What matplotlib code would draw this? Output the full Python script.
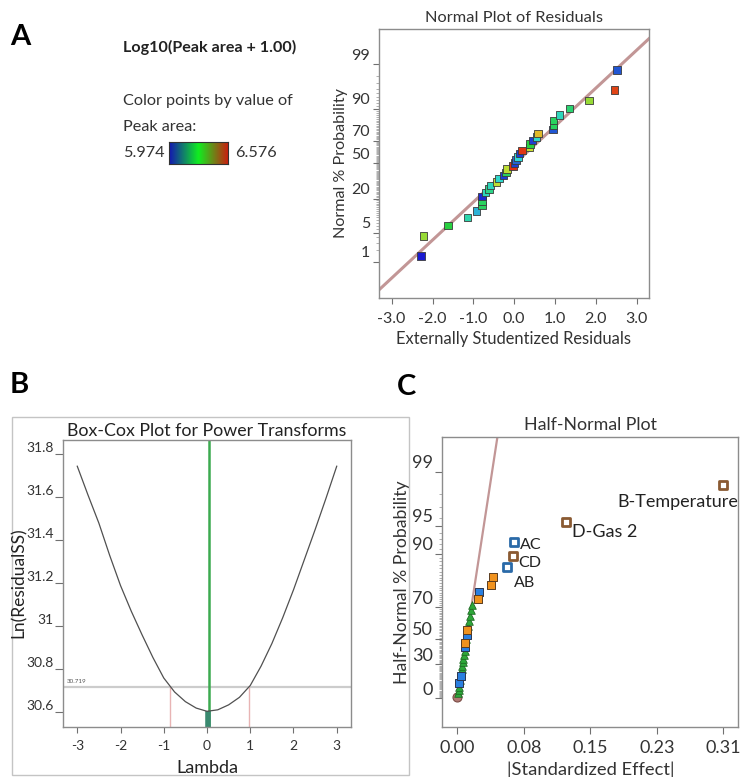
from statistics import NormalDist

import numpy as np
import matplotlib
matplotlib.use("Agg")
import matplotlib.pyplot as plt
import matplotlib.transforms as mtransforms
from matplotlib.colors import LinearSegmentedColormap
from matplotlib.patches import Rectangle

plt.rcParams['font.family'] = ['Lato', 'DejaVu Sans']

W, H = 743, 777
nd = NormalDist()

# ---------------- data ----------------
# A: normal plot of residuals (sorted residuals, coloured by peak area)
residuals = [-2.28, -2.22, -1.62, -1.15, -0.93, -0.79, -0.79, -0.79, -0.71, -0.62,
             -0.58, -0.43, -0.37, -0.27, -0.20, -0.18, -0.03, 0.01, 0.04, 0.09,
             0.13, 0.19, 0.37, 0.39, 0.45, 0.55, 0.58, 0.95, 0.96, 0.96,
             1.11, 1.35, 1.83, 2.46, 2.52]
peak_area = [5.974, 6.365, 6.275, 6.167, 6.094, 6.245, 6.245, 5.986, 6.155, 6.203,
             6.155, 6.395, 6.137, 6.004, 6.245, 6.395, 6.564, 6.004, 6.034, 6.125,
             6.004, 6.558, 6.407, 6.275, 6.004, 6.137, 6.456, 6.022, 6.245, 6.245,
             6.155, 6.227, 6.365, 6.546, 6.022]
peak_min, peak_max = 5.974, 6.576
prob_ticks_a = [1, 5, 20, 50, 70, 90, 99]
resid_ticks = [-3.0, -2.0, -1.0, 0.0, 1.0, 2.0, 3.0]

# B: Box-Cox plot
lambdas = [-3.0, -2.75, -2.5, -2.25, -2.0, -1.75, -1.5, -1.25, -1.0, -0.75, -0.5, -0.25, 0.0,
           0.25, 0.5, 0.75, 1.0, 1.25, 1.5, 1.75, 2.0, 2.25, 2.5, 2.75, 3.0]
ln_ss = [31.745, 31.61, 31.48, 31.33, 31.19, 31.07, 30.96, 30.855, 30.76, 30.695, 30.65, 30.62, 30.605,
         30.612, 30.635, 30.67, 30.725, 30.815, 30.92, 31.04, 31.17, 31.31, 31.45, 31.595, 31.745]
lambda_best = 0.05
lambda_low, lambda_high = -0.85, 0.97
ss_ci = 30.719
boxcox_yticks = [30.6, 30.8, 31.0, 31.2, 31.4, 31.6, 31.8]
boxcox_xticks = [-3, -2, -1, 0, 1, 2, 3]

# C: half-normal plot of effects (sorted |effect|)
effects = [0.0, 0.0010, 0.0015, 0.0020, 0.0023, 0.0033, 0.0040, 0.0045, 0.0050, 0.0058,
           0.0065, 0.0070, 0.0078, 0.0085, 0.0090, 0.0090, 0.0105, 0.0110, 0.0110, 0.0130,
           0.0138, 0.0148, 0.0158, 0.0168, 0.0238, 0.0256, 0.0393, 0.0416, 0.0580, 0.0646,
           0.0657, 0.1263, 0.3100]
effect_kind = ['zero', 'err', 'err', 'err', 'neg', 'err', 'neg', 'err', 'err', 'err',
               'err', 'err', 'err', 'err', 'neg', 'pos', 'err', 'neg', 'pos', 'err',
               'err', 'err', 'err', 'err', 'pos', 'neg', 'pos', 'pos', 'negsel', 'possel',
               'negsel', 'possel', 'possel']
effect_names = {28: 'AB', 29: 'CD', 30: 'AC', 31: 'D-Gas 2', 32: 'B-Temperature'}
prob_ticks_c = [0, 30, 50, 70, 90, 95, 99]
effect_ticks = [0.0, 0.0775, 0.155, 0.2325, 0.31]


def box(x0, y0, x1, y1):
    # pixel box (top-left origin) -> figure fraction rect
    return [x0 / W, 1 - y1 / H, (x1 - x0) / W, (y1 - y0) / H]


def fx(x):
    return x / W


def fy(y):
    return 1 - y / H


def lift_ylabels(ax, px):
    off = mtransforms.ScaledTranslation(0, px / 100, ax.figure.dpi_scale_trans)
    for lab in ax.get_yticklabels():
        lab.set_transform(lab.get_transform() + off)


def style_axes(ax):
    for s in ax.spines.values():
        s.set_color('#8c8c8c')
        s.set_linewidth(1.0)


fig = plt.figure(figsize=(W / 100, H / 100), dpi=100)

# ================= A =================
fig.text(fx(20), fy(37), 'A', fontsize=21, fontweight='bold', ha='center', va='center')
fig.text(fx(123), fy(47.5), 'Log10(Peak area + 1.00)', fontsize=11.6, fontweight='bold',
         ha='left', va='center', color='#222222')
fig.text(fx(123), fy(101), 'Color points by value of', fontsize=11.7, ha='left', va='center', color='#333333')
fig.text(fx(123), fy(127), 'Peak area:', fontsize=11.7, ha='left', va='center', color='#333333')
fig.text(fx(123), fy(153), f'{peak_min:.3f}', fontsize=11.7, ha='left', va='center', color='#333333')
fig.text(fx(235), fy(153), f'{peak_max:.3f}', fontsize=11.7, ha='left', va='center', color='#333333')

cmap_bar = LinearSegmentedColormap.from_list('bar', ['#1414b4', '#10ee20', '#c82010'])
cmap_pts = LinearSegmentedColormap.from_list('pts', ['#1a1ad0', '#30d8d8', '#28d040', '#e0e030', '#e02010'])

ax_cb = fig.add_axes(box(169.3, 141.7, 228.3, 164))
ax_cb.imshow(np.linspace(0, 1, 256)[None, :], aspect='auto', cmap=cmap_bar)
ax_cb.set_xticks([])
ax_cb.set_yticks([])
for s in ax_cb.spines.values():
    s.set_color('#333333')

ax_a = fig.add_axes(box(379, 29, 649, 298))
style_axes(ax_a)
n_a = len(residuals)
z_a = [nd.inv_cdf((i + 0.5) / n_a) for i in range(n_a)]
k, b = np.polyfit(residuals, z_a, 1)
xlim_a = (-3.31, 3.30)
xs = np.array(xlim_a)
ax_a.plot(xs, k * xs + b, color='#c29696', lw=2.2, zorder=2)
ax_a.scatter(residuals, z_a, c=peak_area, cmap=cmap_pts, vmin=peak_min, vmax=peak_max,
             marker='s', s=28, edgecolors='#3a3a3a', linewidths=0.6, zorder=3)
ax_a.set_xlim(*xlim_a)
ax_a.set_ylim(-3.176, 3.153)
ax_a.set_xticks(resid_ticks)
ax_a.set_xticklabels([f'{t:.1f}' for t in resid_ticks])
ax_a.set_yticks([nd.inv_cdf(p / 100) for p in prob_ticks_a])
ax_a.set_yticklabels([str(p) for p in prob_ticks_a])
ax_a.set_yticks([nd.inv_cdf(p / 100) for p in range(1, 100)], minor=True)
ax_a.tick_params(direction='out', length=4.5, width=0.8, color='#707070', labelcolor='#333333',
                 labelsize=11.5, pad=2)
ax_a.tick_params(axis='x', pad=5.5)
ax_a.tick_params(which='minor', length=2.2, width=0.5, color='#909090')
lift_ylabels(ax_a, 10)
ax_a.set_title('Normal Plot of Residuals', fontsize=11.8, color='#333333', pad=5)
ax_a.set_xlabel('Externally Studentized Residuals', fontsize=11.9, color='#333333', labelpad=3.5)
ax_a.set_ylabel('Normal % Probability', fontsize=11.6, color='#333333', labelpad=2)

# ================= B =================
fig.text(fx(19), fy(385), 'B', fontsize=21, fontweight='bold', ha='center', va='center')
fig.add_artist(Rectangle((fx(12), fy(775)), fx(409) - fx(12), fy(417) - fy(775),
                         transform=fig.transFigure, fill=False, edgecolor='#c4c4c4', lw=1))
ax_b = fig.add_axes(box(63, 440, 351, 727))
style_axes(ax_b)
ylim_b = (30.532, 31.867)
ax_b.axhline(ss_ci, color='#cccccc', lw=1.6, zorder=1)
ax_b.vlines([lambda_low, lambda_high], ylim_b[0], ss_ci, color='#e8b4b4', lw=1, zorder=1)
ax_b.axvline(lambda_best, color='#3caa50', lw=1.8, zorder=2)
ax_b.vlines(lambda_best - 0.02, ylim_b[0], min(ln_ss), color='#3a8a70', lw=4, zorder=2)
ax_b.plot(lambdas, ln_ss, color='#505050', lw=0.9, zorder=3)
ax_b.text(-3.25, ss_ci + 0.012, f'{ss_ci:.3f}', fontsize=4.5, color='#555555',
          ha='left', va='bottom')
ax_b.set_xlim(-3.33, 3.33)
ax_b.set_ylim(*ylim_b)
ax_b.set_xticks(boxcox_xticks)
ax_b.set_xticklabels([str(t) for t in boxcox_xticks])
ax_b.set_yticks(boxcox_yticks)
ax_b.set_yticklabels([f'{t:g}' for t in boxcox_yticks])
ax_b.tick_params(axis='y', direction='out', length=5.8, width=0.8, color='#707070',
                 labelcolor='#333333', labelsize=10, pad=1)
ax_b.tick_params(axis='x', direction='out', length=4, width=0.8, color='#707070',
                 labelcolor='#333333', labelsize=10, pad=5)
lift_ylabels(ax_b, 7)
ax_b.set_title('Box-Cox Plot for Power Transforms', fontsize=12.8, color='#222222', pad=3)
ax_b.set_xlabel('Lambda', fontsize=13, color='#222222', labelpad=6)
# y label placed by hand: it sits in the narrow gap left of the tick labels
fig.text(fx(18.5), fy(582.5), 'Ln(ResidualSS)', fontsize=12.5, rotation=90,
         ha='center', va='center', color='#222222')

# ================= C =================
fig.text(fx(407), fy(387), 'C', fontsize=21, fontweight='bold', ha='center', va='center')
ax_c = fig.add_axes(box(442.3, 437.3, 738.3, 727.3))
style_axes(ax_c)
n_c = len(effects)
z_c = [nd.inv_cdf(0.5 + (i + 0.5) / (2 * n_c)) for i in range(n_c)]
eff = np.array(effects)
zc = np.array(z_c)
kind = np.array(effect_kind)
err = kind == 'err'
slope = np.sum(eff[err] * zc[err]) / np.sum(eff[err] ** 2)
xl = np.array([0.0, 0.06])
ax_c.plot(xl, slope * xl, color='#c29696', lw=1.6, zorder=2)

styles = {
    'zero': dict(marker='o', s=42, facecolors='#b07a74', edgecolors='#7a4a44', linewidths=0.8),
    'err': dict(marker='^', s=30, facecolors='#2ea83a', edgecolors='#1d6a22', linewidths=0.6),
    'neg': dict(marker='s', s=26, facecolors='#2a7fe0', edgecolors='#2a3550', linewidths=0.7),
    'pos': dict(marker='s', s=26, facecolors='#f0921e', edgecolors='#5a3c20', linewidths=0.7),
    'negsel': dict(marker='s', s=34, facecolors='white', edgecolors='#2a6aa8', linewidths=2.0),
    'possel': dict(marker='s', s=34, facecolors='white', edgecolors='#8a5a32', linewidths=2.0),
}
for name, st in styles.items():
    m = kind == name
    ax_c.scatter(eff[m], zc[m], zorder=3 if name != 'zero' else 2.5, **st)

# label offsets in pixels (right, up) relative to each selected term
label_offsets = {'AB': (7, -16), 'CD': (6, -7), 'AC': (6, -3), 'D-Gas 2': (6, -10)}
for i, lab in effect_names.items():
    if lab == 'B-Temperature':
        ax_c.annotate(lab, (effects[i], z_c[i]), xytext=(15, -17), textcoords='offset pixels',
                      ha='right', va='center', fontsize=13, color='#222222', annotation_clip=False)
    else:
        ax_c.annotate(lab, (effects[i], z_c[i]), xytext=label_offsets[lab], textcoords='offset pixels',
                      ha='left', va='center', fontsize=13 if lab == 'D-Gas 2' else 11.5,
                      color='#222222')

ax_c.set_xlim(-0.0175, 0.3275)
ax_c.set_ylim(-0.33, 2.966)
ax_c.set_xticks(effect_ticks)
ax_c.set_xticklabels([f'{t:.2f}' for t in effect_ticks])
ax_c.set_yticks([nd.inv_cdf(0.5 + p / 200) for p in prob_ticks_c])
ax_c.set_yticklabels([str(p) for p in prob_ticks_c])
ax_c.set_yticks([nd.inv_cdf(0.5 + p / 200) for p in range(0, 100)], minor=True)
ax_c.tick_params(direction='out', length=5, width=0.8, color='#707070', labelcolor='#333333',
                 labelsize=13, pad=2)
ax_c.tick_params(axis='x', pad=4)
ax_c.tick_params(which='minor', length=2.2, width=0.5, color='#909090')
lift_ylabels(ax_c, 10)
ax_c.set_title('Half-Normal Plot', fontsize=12.8, color='#333333', pad=5)
ax_c.set_xlabel('|Standardized Effect|', fontsize=13.2, color='#333333', labelpad=4)
ax_c.set_ylabel('Half-Normal % Probability', fontsize=12.7, color='#333333', labelpad=1)

fig.savefig('out.png', dpi=100)
